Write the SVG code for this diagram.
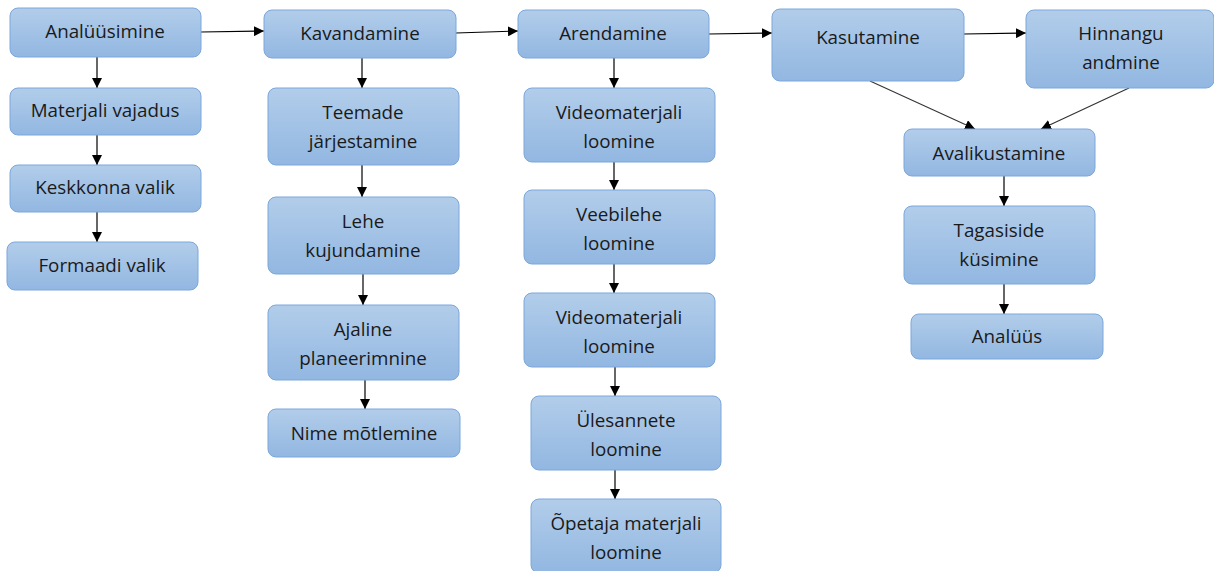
<svg xmlns="http://www.w3.org/2000/svg" width="1214" height="571" viewBox="0 0 1214 571">
<defs>
<linearGradient id="g" x1="0" y1="0" x2="0" y2="1">
<stop offset="0" stop-color="#b2cdea"/>
<stop offset="1" stop-color="#92b7e1"/>
</linearGradient>
<marker id="ah" viewBox="0 0 10 10" refX="10" refY="5" markerWidth="10" markerHeight="10" markerUnits="userSpaceOnUse" orient="auto">
<path d="M0,0 L10,5 L0,10 Z" fill="#000"/>
</marker>
<style>
.n rect{fill:url(#g);stroke:#7aa7dc;stroke-width:1}
.n text{font-family:"Open Sans","Liberation Sans",sans-serif;font-size:18.8px;fill:#1a1a1a;text-anchor:middle}
.c line{stroke:#000;stroke-width:1.2;marker-end:url(#ah)}
.c line.d{stroke:#333}
</style>
</defs>
<rect width="1214" height="571" fill="#fff"/>
<g class="c" id="connectors">
<line x1="201" y1="32" x2="264" y2="31"/>
<line x1="456" y1="33" x2="518" y2="31"/>
<line x1="709" y1="34" x2="772" y2="33"/>
<line x1="964" y1="34" x2="1026" y2="33"/>
<line class="d" x1="870" y1="81" x2="975" y2="129"/>
<line class="d" x1="1129" y1="88" x2="1041" y2="129"/>
<line x1="1004" y1="176" x2="1004" y2="206"/>
<line x1="1004" y1="284" x2="1004" y2="314"/>
<line x1="97" y1="57" x2="97" y2="88"/>
<line x1="97" y1="135" x2="97" y2="165"/>
<line x1="97" y1="212" x2="97" y2="242"/>
<line x1="362" y1="58" x2="362" y2="88"/>
<line x1="362" y1="165" x2="362" y2="197"/>
<line x1="363" y1="274" x2="363" y2="305"/>
<line x1="365" y1="380" x2="365" y2="409"/>
<line x1="614" y1="58" x2="614" y2="88"/>
<line x1="614" y1="162" x2="614" y2="190"/>
<line x1="614" y1="264" x2="614" y2="293"/>
<line x1="615" y1="367" x2="615" y2="396"/>
<line x1="615" y1="470" x2="615" y2="499"/>
</g>
<g class="n" id="n-analuusimine"><rect x="10" y="8" width="191" height="49" rx="8"/><text x="105" y="38">Analüüsimine</text></g>
<g class="n" id="n-materjali"><rect x="10" y="88" width="191" height="47" rx="8"/><text x="105" y="117">Materjali vajadus</text></g>
<g class="n" id="n-keskkonna"><rect x="10" y="165" width="191" height="47" rx="8"/><text x="105" y="194">Keskkonna valik</text></g>
<g class="n" id="n-formaadi"><rect x="7" y="242" width="191" height="48" rx="8"/><text x="102" y="272">Formaadi valik</text></g>

<g class="n" id="n-kavandamine"><rect x="264" y="10" width="192" height="48" rx="8"/><text x="360" y="40">Kavandamine</text></g>
<g class="n" id="n-teemade"><rect x="268" y="88" width="191" height="77" rx="8"/><text x="363" y="119">Teemade</text><text x="363" y="148">järjestamine</text></g>
<g class="n" id="n-lehe"><rect x="268" y="197" width="191" height="77" rx="8"/><text x="363" y="228">Lehe</text><text x="363" y="257">kujundamine</text></g>
<g class="n" id="n-ajaline"><rect x="268" y="305" width="191" height="75" rx="8"/><text x="363" y="336">Ajaline</text><text x="363" y="365">planeerimnine</text></g>
<g class="n" id="n-nime"><rect x="268" y="409" width="192" height="48" rx="8"/><text x="364" y="440">Nime mõtlemine</text></g>

<g class="n" id="n-arendamine"><rect x="518" y="10" width="191" height="48" rx="8"/><text x="613" y="40">Arendamine</text></g>
<g class="n" id="n-video1"><rect x="524" y="88" width="191" height="74" rx="8"/><text x="619" y="119">Videomaterjali</text><text x="619" y="148">loomine</text></g>
<g class="n" id="n-veebilehe"><rect x="524" y="190" width="191" height="74" rx="8"/><text x="619" y="221">Veebilehe</text><text x="619" y="250">loomine</text></g>
<g class="n" id="n-video2"><rect x="524" y="293" width="191" height="74" rx="8"/><text x="619" y="324">Videomaterjali</text><text x="619" y="353">loomine</text></g>
<g class="n" id="n-ulesannete"><rect x="531" y="396" width="190" height="74" rx="8"/><text x="626" y="427">Ülesannete</text><text x="626" y="456">loomine</text></g>
<g class="n" id="n-opetaja"><rect x="531" y="499" width="190" height="74" rx="8"/><text x="626" y="530">Õpetaja materjali</text><text x="626" y="559">loomine</text></g>

<g class="n" id="n-kasutamine"><rect x="772" y="9" width="192" height="72" rx="8"/><text x="868" y="44">Kasutamine</text></g>
<g class="n" id="n-hinnangu"><rect x="1026" y="10" width="188" height="78" rx="8"/><text x="1121" y="40">Hinnangu</text><text x="1121" y="69">andmine</text></g>
<g class="n" id="n-avalikustamine"><rect x="904" y="129" width="191" height="47" rx="8"/><text x="999" y="160">Avalikustamine</text></g>
<g class="n" id="n-tagasiside"><rect x="904" y="206" width="191" height="78" rx="8"/><text x="999" y="237">Tagasiside</text><text x="999" y="266">küsimine</text></g>
<g class="n" id="n-analuus"><rect x="911" y="314" width="192" height="45" rx="8"/><text x="1007" y="343">Analüüs</text></g>
</svg>
